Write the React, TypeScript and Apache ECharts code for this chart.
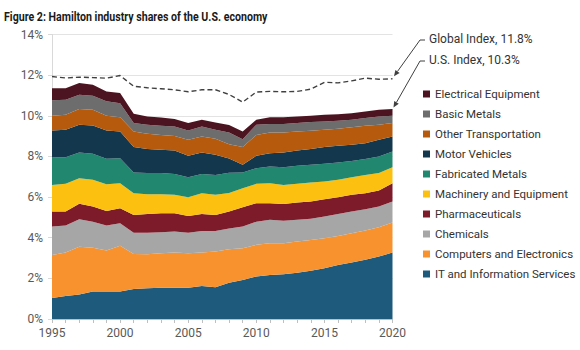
import React, { useEffect, useRef } from "react";
import * as echarts from "echarts";

const years = [
  "1995", "1996", "1997", "1998", "1999", "2000", "2001", "2002", "2003", "2004",
  "2005", "2006", "2007", "2008", "2009", "2010", "2011", "2012", "2013", "2014",
  "2015", "2016", "2017", "2018", "2019", "2020",
];

const itServices = [1.03, 1.13, 1.21, 1.35, 1.35, 1.35, 1.48, 1.51, 1.54, 1.54, 1.54, 1.63, 1.56, 1.78, 1.92, 2.09, 2.17, 2.2, 2.28, 2.38, 2.5, 2.66, 2.78, 2.91, 3.07, 3.27];
const computers = [2.12, 2.14, 2.35, 2.16, 2.02, 2.25, 1.72, 1.68, 1.69, 1.73, 1.69, 1.64, 1.76, 1.65, 1.56, 1.56, 1.56, 1.53, 1.53, 1.51, 1.47, 1.43, 1.44, 1.44, 1.45, 1.48];
const chemicals = [1.4, 1.33, 1.35, 1.28, 1.23, 1.11, 1.05, 1.06, 1.04, 1.03, 1.02, 1.06, 1.01, 1.02, 1.07, 1.14, 1.15, 1.11, 1.07, 1.04, 1.07, 1.08, 1.07, 1.05, 1.01, 1.03];
const pharma = [0.74, 0.69, 0.76, 0.74, 0.72, 0.74, 0.87, 0.92, 0.93, 0.9, 0.82, 0.84, 0.79, 0.84, 0.95, 0.91, 0.82, 0.82, 0.85, 0.85, 0.85, 0.82, 0.82, 0.79, 0.79, 0.9];
const machinery = [1.31, 1.36, 1.26, 1.32, 1.31, 1.23, 1.07, 0.97, 0.94, 0.91, 0.92, 1.02, 0.99, 0.91, 0.94, 0.95, 0.98, 0.94, 0.92, 0.94, 0.88, 0.86, 0.87, 0.9, 0.86, 0.79];
const fabricated = [1.35, 1.31, 1.26, 1.28, 1.25, 1.23, 1.02, 1.04, 1.04, 1.02, 0.99, 0.94, 0.98, 1.0, 0.77, 0.77, 0.82, 0.87, 0.89, 0.87, 0.87, 0.85, 0.8, 0.78, 0.82, 0.77];
const motorVehicles = [1.33, 1.35, 1.37, 1.39, 1.4, 1.32, 1.25, 1.18, 1.15, 1.16, 1.05, 1.06, 0.99, 0.7, 0.38, 0.61, 0.66, 0.72, 0.75, 0.77, 0.82, 0.82, 0.79, 0.78, 0.82, 0.74];
const otherTransport = [0.72, 0.74, 0.77, 0.78, 0.72, 0.7, 0.77, 0.75, 0.73, 0.72, 0.79, 0.79, 0.79, 0.7, 0.87, 1.03, 1.02, 0.99, 0.94, 0.9, 0.85, 0.84, 0.86, 0.86, 0.74, 0.66];
const basicMetals = [0.76, 0.74, 0.7, 0.69, 0.71, 0.69, 0.41, 0.45, 0.45, 0.46, 0.46, 0.49, 0.44, 0.58, 0.39, 0.5, 0.41, 0.41, 0.41, 0.43, 0.41, 0.39, 0.37, 0.38, 0.41, 0.36];
const electrical = [0.6, 0.57, 0.58, 0.54, 0.49, 0.5, 0.46, 0.41, 0.41, 0.37, 0.36, 0.33, 0.36, 0.37, 0.38, 0.24, 0.34, 0.34, 0.33, 0.31, 0.33, 0.33, 0.33, 0.32, 0.33, 0.33];
const globalIndex = [11.93, 11.86, 11.9, 11.88, 11.85, 11.98, 11.45, 11.38, 11.33, 11.28, 11.18, 11.28, 11.28, 11.05, 10.67, 11.17, 11.2, 11.18, 11.2, 11.31, 11.65, 11.62, 11.72, 11.85, 11.8, 11.82];

const yTicks = [0, 2, 4, 6, 8, 10, 12, 14];

const stackSeries = [
  { name: "IT and Information Services", data: itServices, color: "#1d5a7c" },
  { name: "Computers and Electronics", data: computers, color: "#f7922f" },
  { name: "Chemicals", data: chemicals, color: "#a6a6a6" },
  { name: "Pharmaceuticals", data: pharma, color: "#7e1b2b" },
  { name: "Machinery and Equipment", data: machinery, color: "#fcc010" },
  { name: "Fabricated Metals", data: fabricated, color: "#22876f" },
  { name: "Motor Vehicles", data: motorVehicles, color: "#13384d" },
  { name: "Other Transportation", data: otherTransport, color: "#b65b0d" },
  { name: "Basic Metals", data: basicMetals, color: "#6d6d6d" },
  { name: "Electrical Equipment", data: electrical, color: "#4c1420" },
];

const FONT = "Roboto, 'Liberation Sans', Arial, sans-serif";

export default function App() {
  const ref = useRef<HTMLDivElement>(null);

  useEffect(() => {
    document.body.style.margin = "0";
    const chart = echarts.init(ref.current!, null, { renderer: "svg" });

    const option: any = {
      animation: false,
      grid: { left: 52, right: 187.5, top: 34.5, bottom: 31 },
      xAxis: {
        type: "category",
        data: years,
        boundaryGap: false,
        axisLine: { lineStyle: { color: "#bfbfbf" } },
        axisTick: { show: true, interval: 0, length: 4, lineStyle: { color: "#bfbfbf" } },
        axisLabel: { interval: 4, color: "#595959", fontSize: 12, fontFamily: FONT, margin: 8 },
        splitLine: { show: false },
      },
      yAxis: {
        type: "value",
        min: yTicks[0],
        max: yTicks[yTicks.length - 1],
        interval: 2,
        axisLine: { show: true, lineStyle: { color: "#d9d9d9" } },
        axisTick: { show: true, length: 4, lineStyle: { color: "#d9d9d9" } },
        axisLabel: { formatter: (v: number) => `${v}%`, color: "#595959", fontSize: 12, fontFamily: FONT, margin: 9 },
        splitLine: { lineStyle: { color: "#e3e3e3" } },
      },
      legend: {
        orient: "vertical",
        left: 423,
        top: 87,
        padding: 0,
        icon: "rect",
        itemWidth: 7,
        itemHeight: 7,
        itemGap: 6,
        data: stackSeries.map((s) => s.name).reverse(),
        textStyle: { fontSize: 11.5, fontFamily: FONT, color: "#333333", lineHeight: 14 },
        selectedMode: false,
      },
      series: [
        ...stackSeries.map((s) => ({
          type: "line",
          name: s.name,
          data: s.data,
          stack: "total",
          symbol: "none",
          showSymbol: false,
          lineStyle: { width: 0, color: s.color },
          itemStyle: { color: s.color },
          areaStyle: { color: s.color, opacity: 1 },
        })),
        {
          type: "line",
          name: "Global Index",
          data: globalIndex,
          symbol: "none",
          showSymbol: false,
          lineStyle: { type: [5, 3], color: "#404040", width: 1.4 },
          itemStyle: { color: "#404040" },
          z: 5,
        },
      ],
    };
    chart.setOption(option);

    const lastIdx = years.length - 1;
    const lastYear = years[lastIdx];
    const globalLast = globalIndex[lastIdx];
    const usLast = stackSeries.reduce((acc, s) => acc + s.data[lastIdx], 0);
    const gp = chart.convertToPixel({ xAxisIndex: 0, yAxisIndex: 0 }, [lastYear, globalLast]) as number[];
    const up = chart.convertToPixel({ xAxisIndex: 0, yAxisIndex: 0 }, [lastYear, usLast]) as number[];

    const makeArrow = (tipX: number, tipY: number, elbowX: number, elbowY: number) => {
      const dx = tipX - elbowX;
      const dy = tipY - elbowY;
      const len = Math.sqrt(dx * dx + dy * dy);
      const ux = dx / len;
      const uy = dy / len;
      const hl = 6;
      const hw = 2.6;
      const bx = tipX - ux * hl;
      const by = tipY - uy * hl;
      return [
        {
          type: "polyline",
          shape: { points: [[elbowX + 5, elbowY], [elbowX, elbowY], [bx, by]] },
          style: { stroke: "#404040", lineWidth: 1, fill: "none" },
          silent: true,
        },
        {
          type: "polygon",
          shape: {
            points: [
              [tipX, tipY],
              [bx - uy * hw, by + ux * hw],
              [bx + uy * hw, by - ux * hw],
            ],
          },
          style: { fill: "#404040" },
          silent: true,
        },
      ];
    };

    const labelX = 429;
    const gLabelY = 41;
    const uLabelY = 62;
    chart.setOption({
      graphic: [
        {
          type: "text",
          x: 4,
          y: 10,
          scaleX: 0.85,
          style: {
            text: "Figure 2: Hamilton industry shares of the U.S. economy",
            fontFamily: "Roboto, 'Liberation Sans', Arial, sans-serif",
            fontWeight: "bold",
            fontSize: 12.5,
            fill: "#1a1a1a",
          },
        },
        ...makeArrow(gp[0] + 1.5, gp[1] - 2.5, 420, gLabelY - 1),
        ...makeArrow(up[0] + 1, up[1] - 1.5, 420, uLabelY - 1),
        {
          type: "text",
          left: labelX,
          top: gLabelY - 8,
          style: { text: `Global Index, ${globalLast.toFixed(1)}%`, fontSize: 12, fontFamily: FONT, fill: "#333333" },
        },
        {
          type: "text",
          left: labelX,
          top: uLabelY - 8,
          style: { text: `U.S. Index, ${usLast.toFixed(1)}%`, fontSize: 12, fontFamily: FONT, fill: "#333333" },
        },
      ],
    });

    return () => chart.dispose();
  }, []);

  return <div ref={ref} style={{ width: 580, height: 350 }} />;
}
